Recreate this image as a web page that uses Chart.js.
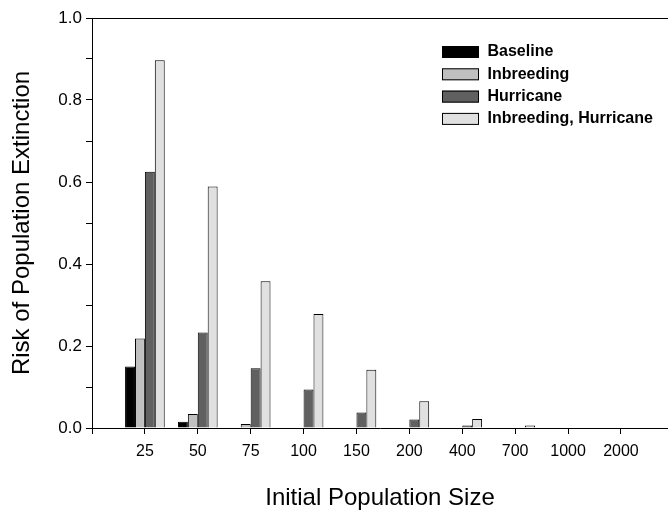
<!DOCTYPE html>
<html>
<head>
<meta charset="utf-8">
<script src="https://cdn.jsdelivr.net/npm/chart.js@4"></script>
<style>
  body { margin: 0; background: #fff; }
</style>
</head>
<body>
<canvas id="chart" width="668" height="513"></canvas>
<script>
// data
const categories = ["25", "50", "75", "100", "150", "200", "400", "700", "1000", "2000"];
const baseline = [0.150, 0.015, 0, 0, 0, 0, 0, 0, 0, 0];
const inbreeding = [0.218, 0.034, 0.010, 0, 0, 0, 0, 0, 0, 0];
const hurricane = [0.625, 0.233, 0.146, 0.094, 0.038, 0.021, 0.006, 0, 0, 0];
const inbreedingHurricane = [0.897, 0.589, 0.358, 0.278, 0.142, 0.065, 0.022, 0.006, 0, 0];
const yTicks = [0, 0.2, 0.4, 0.6, 0.8, 1.0];

Chart.defaults.font.family = 'Arial, "Liberation Sans", sans-serif';
Chart.defaults.color = "#000";

// categories sit on x = 1..10 of a linear axis
const toPoints = (vals) => vals.map((v, i) => ({ x: i + 1, y: v }));

const series = [
  { label: "Baseline", data: baseline, color: "#000000" },
  { label: "Inbreeding", data: inbreeding, color: "#c0c0c0" },
  { label: "Hurricane", data: hurricane, color: "#606060" },
  { label: "Inbreeding, Hurricane", data: inbreedingHurricane, color: "#e0e0e0" }
];

// legend inside the plot + top frame line
const boxLegend = {
  id: "boxLegend",
  afterDraw(chart) {
    const ctx = chart.ctx;
    const area = chart.chartArea;
    ctx.save();
    ctx.strokeStyle = "#000";
    ctx.lineWidth = 1;
    ctx.beginPath();
    ctx.moveTo(area.left, area.top + 0.5);
    ctx.lineTo(area.right, area.top + 0.5);
    ctx.stroke();

    ctx.font = "bold 16px Arial, 'Liberation Sans', sans-serif";
    ctx.textBaseline = "middle";
    chart.data.datasets.forEach((ds, i) => {
      const y = 52 + i * 22.3;
      ctx.fillStyle = ds.backgroundColor;
      ctx.fillRect(442, y - 6, 37, 12);
      ctx.strokeRect(442.5, y - 5.5, 36, 11);
      ctx.fillStyle = "#000";
      ctx.fillText(ds.label, 487.5, y);
    });
    ctx.restore();
  }
};

new Chart(document.getElementById("chart"), {
  type: "bar",
  data: {
    datasets: series.map((s) => ({
      label: s.label,
      data: toPoints(s.data),
      backgroundColor: s.color,
      borderColor: "#000",
      borderWidth: 1,
      barPercentage: 1.0,
      categoryPercentage: 0.75
    }))
  },
  options: {
    responsive: false,
    animation: false,
    layout: { padding: { top: 18, right: 0, bottom: 0, left: 0 } },
    plugins: {
      legend: { display: false },
      tooltip: { enabled: false }
    },
    scales: {
      x: {
        type: "linear",
        min: 0,
        max: 10.89,
        offset: false,
        afterFit: (scale) => { scale.height = 85; },
        grid: { drawOnChartArea: false, offset: false, tickLength: 6, color: "#000" },
        border: { display: true, color: "#000", width: 1 },
        ticks: {
          stepSize: 1,
          includeBounds: false,
          autoSkip: false,
          maxRotation: 0,
          padding: 8,
          font: { size: 16 },
          callback: (v) => categories[v - 1] || ""
        },
        title: {
          display: true,
          text: "Initial Population Size",
          font: { size: 24 },
          padding: { top: 0, bottom: 0 }
        }
      },
      y: {
        min: 0,
        max: 1,
        afterFit: (scale) => { scale.width = 92; },
        grid: { drawOnChartArea: false, tickLength: 6, color: "#000" },
        border: { display: true, color: "#000", width: 1 },
        ticks: {
          stepSize: 0.1,
          padding: 4,
          font: { size: 17 },
          callback: (v) => {
            const t = yTicks.find((k) => Math.abs(k - v) < 1e-6);
            return t === undefined ? "" : t.toFixed(1);
          }
        },
        title: {
          display: true,
          text: "Risk of Population Extinction",
          font: { size: 24 },
          padding: { top: 8, bottom: 0 }
        }
      }
    }
  },
  plugins: [boxLegend]
});
</script>
</body>
</html>
